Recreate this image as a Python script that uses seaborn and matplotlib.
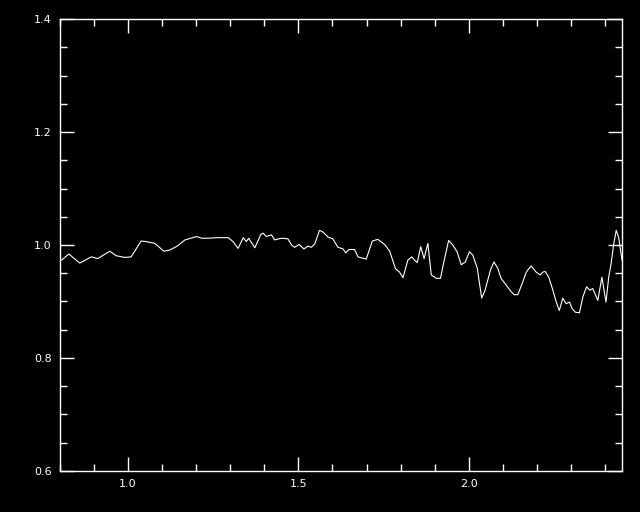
import numpy as np
import pandas as pd
import matplotlib
matplotlib.use("Agg")
import matplotlib.pyplot as plt
from matplotlib.ticker import MultipleLocator
import seaborn as sns

# wavelength / ratio
wave = [0.804, 0.826, 0.858, 0.892, 0.911, 0.946, 0.965, 0.990, 1.009, 1.038,
        1.053, 1.078, 1.105, 1.122, 1.144, 1.167, 1.201, 1.216, 1.235, 1.264,
        1.294, 1.308, 1.323, 1.338, 1.347, 1.354, 1.372, 1.389, 1.396, 1.406,
        1.421, 1.430, 1.450, 1.469, 1.481, 1.489, 1.502, 1.516, 1.528, 1.538,
        1.548, 1.562, 1.572, 1.587, 1.601, 1.616, 1.631, 1.639, 1.648, 1.665,
        1.675, 1.699, 1.717, 1.733, 1.753, 1.768, 1.785, 1.797, 1.807, 1.821,
        1.833, 1.841, 1.849, 1.859, 1.869, 1.880, 1.890, 1.905, 1.917, 1.927,
        1.941, 1.953, 1.966, 1.978, 1.990, 2.002, 2.012, 2.025, 2.038, 2.048,
        2.064, 2.074, 2.085, 2.095, 2.110, 2.125, 2.134, 2.144, 2.157, 2.169,
        2.183, 2.198, 2.210, 2.217, 2.225, 2.235, 2.247, 2.257, 2.266, 2.276,
        2.286, 2.296, 2.303, 2.313, 2.325, 2.335, 2.346, 2.356, 2.364, 2.379,
        2.391, 2.403, 2.411, 2.418, 2.425, 2.433, 2.440, 2.450]
ratio = [0.973, 0.984, 0.968, 0.979, 0.976, 0.989, 0.981, 0.978, 0.979, 1.007,
         1.006, 1.003, 0.989, 0.991, 0.998, 1.009, 1.015, 1.012, 1.012, 1.013,
         1.013, 1.006, 0.994, 1.013, 1.006, 1.012, 0.995, 1.018, 1.021, 1.015,
         1.018, 1.009, 1.012, 1.011, 0.999, 0.996, 1.001, 0.993, 0.998, 0.996,
         1.002, 1.026, 1.023, 1.014, 1.011, 0.996, 0.993, 0.986, 0.992, 0.992,
         0.979, 0.975, 1.007, 1.010, 1.001, 0.989, 0.958, 0.952, 0.942, 0.973,
         0.979, 0.973, 0.969, 0.997, 0.976, 1.003, 0.947, 0.941, 0.941, 0.970,
         1.008, 1.000, 0.988, 0.965, 0.970, 0.988, 0.982, 0.959, 0.906, 0.920,
         0.956, 0.970, 0.959, 0.941, 0.929, 0.917, 0.912, 0.912, 0.932, 0.952,
         0.963, 0.952, 0.947, 0.952, 0.953, 0.943, 0.920, 0.899, 0.884, 0.906,
         0.896, 0.899, 0.888, 0.881, 0.880, 0.908, 0.926, 0.920, 0.923, 0.902,
         0.943, 0.899, 0.943, 0.967, 0.999, 1.026, 1.014, 0.973]

df = pd.DataFrame({"wave": wave, "ratio": ratio})

sns.set_theme(style="ticks", rc={
    "figure.facecolor": "black",
    "axes.facecolor": "black",
    "axes.edgecolor": "white",
    "xtick.color": "white",
    "ytick.color": "white",
    "text.color": "white",
})
plt.rcParams["font.family"] = ["DejaVu Sans"]

fig = plt.figure(figsize=(6.4, 5.12), dpi=100)
ax = fig.add_axes([60 / 640, 41 / 512, 562 / 640, 452 / 512])

sns.lineplot(data=df, x="wave", y="ratio", sort=False, estimator=None,
             color="white", linewidth=0.8, ax=ax)

ax.set_xlim(0.8, 2.45)
ax.set_ylim(0.6, 1.4)
ax.xaxis.set_major_locator(MultipleLocator(0.5))
ax.xaxis.set_minor_locator(MultipleLocator(0.1))
ax.yaxis.set_major_locator(MultipleLocator(0.2))
ax.yaxis.set_minor_locator(MultipleLocator(0.05))
ax.xaxis.set_major_formatter(matplotlib.ticker.FormatStrFormatter("%.1f"))
ax.yaxis.set_major_formatter(matplotlib.ticker.FormatStrFormatter("%.1f"))
ax.tick_params(which="both", direction="in", top=True, right=True,
               width=1.0, labelsize=8, labelcolor="white")
ax.tick_params(which="major", length=10, pad=6)
ax.tick_params(which="minor", length=5)
for s in ax.spines.values():
    s.set_color("white")
    s.set_linewidth(1.0)
ax.set_xlabel("")
ax.set_ylabel("")

fig.savefig("out.png", dpi=100, facecolor="black")
